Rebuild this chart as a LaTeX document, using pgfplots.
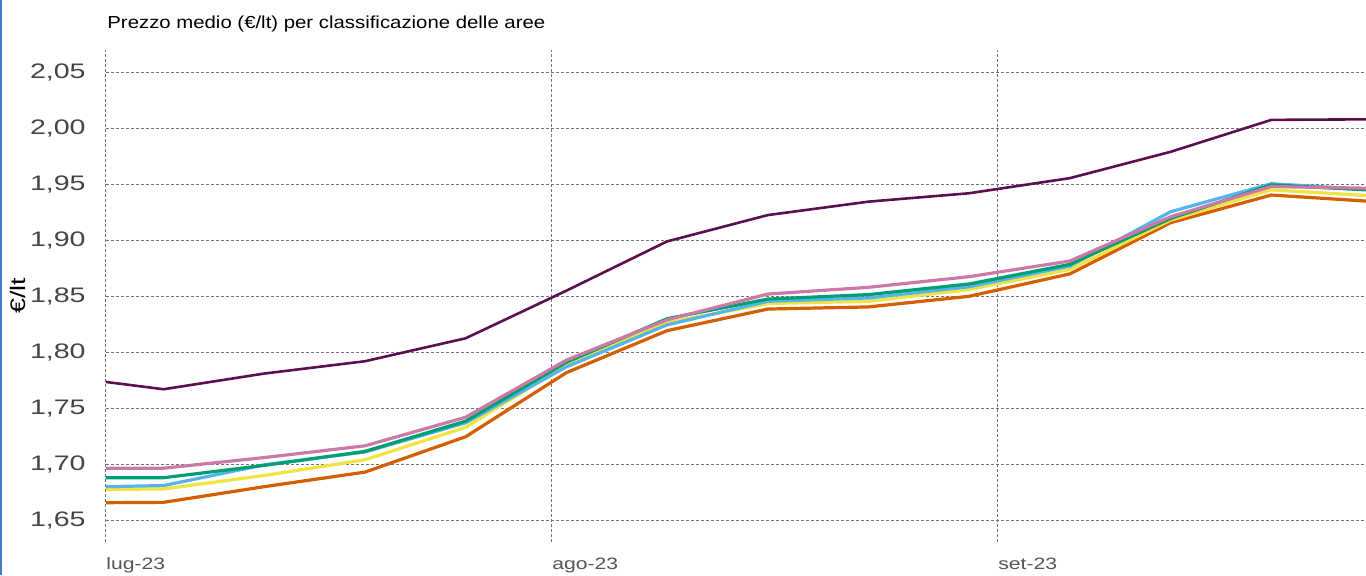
\documentclass[border=0pt]{standalone}
\usepackage{fontspec}
\setmainfont{Liberation Sans}[FakeStretch=1.28]
\newfontfamily\titlefont{Liberation Sans}[FakeStretch=1.17]
\newfontfamily\tickfont{Liberation Sans}[FakeStretch=1.36]
\usepackage{pgfplots}
\usepackage{pgfplotstable}
\pgfplotsset{compat=1.18}
\definecolor{cpurple}{HTML}{5A104E}
\definecolor{cpink}{HTML}{CC79A7}
\definecolor{cgreen}{HTML}{009E73}
\definecolor{cblue}{HTML}{56B4E9}
\definecolor{cyellow}{HTML}{F0E442}
\definecolor{corange}{HTML}{D55E00}
\definecolor{tickgray}{HTML}{444444}
\definecolor{xgray}{HTML}{555555}
\definecolor{leftblue}{HTML}{4A78CF}

\pgfplotstableread{
x      purple  pink    green   blue    yellow  orange
0      1.7735  1.6965  1.6880  1.6800  1.6775  1.6657
4      1.7670  1.6965  1.6880  1.6810  1.6780  1.6660
11     1.7810  1.7060  1.6990  1.6995  1.6900  1.6800
18     1.7920  1.7165  1.7115  1.7110  1.7040  1.6930
25     1.8125  1.7420  1.7385  1.7370  1.7330  1.7246
32     1.8550  1.7930  1.7910  1.7870  1.7890  1.7818
39     1.8990  1.8290  1.8300  1.8245  1.8265  1.8193
46     1.9225  1.8520  1.8475  1.8455  1.8435  1.8386
53     1.9345  1.8580  1.8515  1.8485  1.8455  1.8405
60     1.9420  1.8675  1.8610  1.8585  1.8560  1.8500
67     1.9555  1.8815  1.8785  1.8770  1.8740  1.8700
74     1.9790  1.9210  1.9195  1.9255  1.9180  1.9157
81     2.0075  1.9480  1.9495  1.9505  1.9450  1.9404
87.58  2.0080  1.9465  1.9450  1.9455  1.9400  1.9350
}\datatable

\begin{document}
\begin{tikzpicture}
\begin{axis}[
  at={(0,0)}, anchor=south west,
  scale only axis, width=630pt, height=246pt,
  xmin=0, xmax=87.58, ymin=1.6306, ymax=2.0699,
  axis line style={draw=none},
  tick style={draw=none},
  major tick length=0pt,
  xtick={0,31,62}, xticklabels={lug-23,ago-23,set-23},
  ytick={1.65,1.70,1.75,1.80,1.85,1.90,1.95,2.00,2.05},
  grid=major,
  major grid style={color=black!55, line width=0.5pt, dash pattern=on 1.5pt off 1pt},
  /pgf/number format/use comma,
  /pgf/number format/fixed,
  /pgf/number format/fixed zerofill,
  /pgf/number format/precision=2,
  /pgf/number format/assume math mode=true,
  yticklabel style={font=\tickfont\fontsize{10.5}{12}\selectfont, text=tickgray, anchor=east, inner sep=0pt, xshift=-10pt},
  xticklabel style={font=\fontsize{8.25}{10}\selectfont, text=xgray, anchor=base west, inner sep=0pt, yshift=-13.5pt},
  title={Prezzo medio (€/lt) per classificazione delle aree},
  title style={at={(axis description cs:0,1)}, anchor=base west, font=\titlefont\fontsize{8.7}{10}\selectfont, inner sep=0pt, yshift=4.75pt, xshift=0.5pt},
  ylabel={€/lt},
  ylabel style={at={(axis description cs:-0.0698,0.5)}, anchor=center, font=\fontsize{10.5}{12}\selectfont, inner sep=0pt},
  every axis plot/.append style={line join=round, line cap=round},
]
\addplot[cpurple, line width=1.3pt] table[x=x, y=purple] {\datatable};
\addplot[corange, line width=1.6pt] table[x=x, y=orange] {\datatable};
\addplot[cyellow, line width=1.6pt] table[x=x, y=yellow] {\datatable};
\addplot[cblue, line width=1.6pt] table[x=x, y=blue] {\datatable};
\addplot[cgreen, line width=1.6pt] table[x=x, y=green] {\datatable};
\addplot[cpink, line width=1.6pt] table[x=x, y=pink] {\datatable};
\end{axis}
\pgfresetboundingbox
\path[use as bounding box] (-53pt,-16.5pt) rectangle (630pt,271pt);
\fill[leftblue] (-53pt,-16.5pt) rectangle (-52pt,271pt);
\end{tikzpicture}
\end{document}
